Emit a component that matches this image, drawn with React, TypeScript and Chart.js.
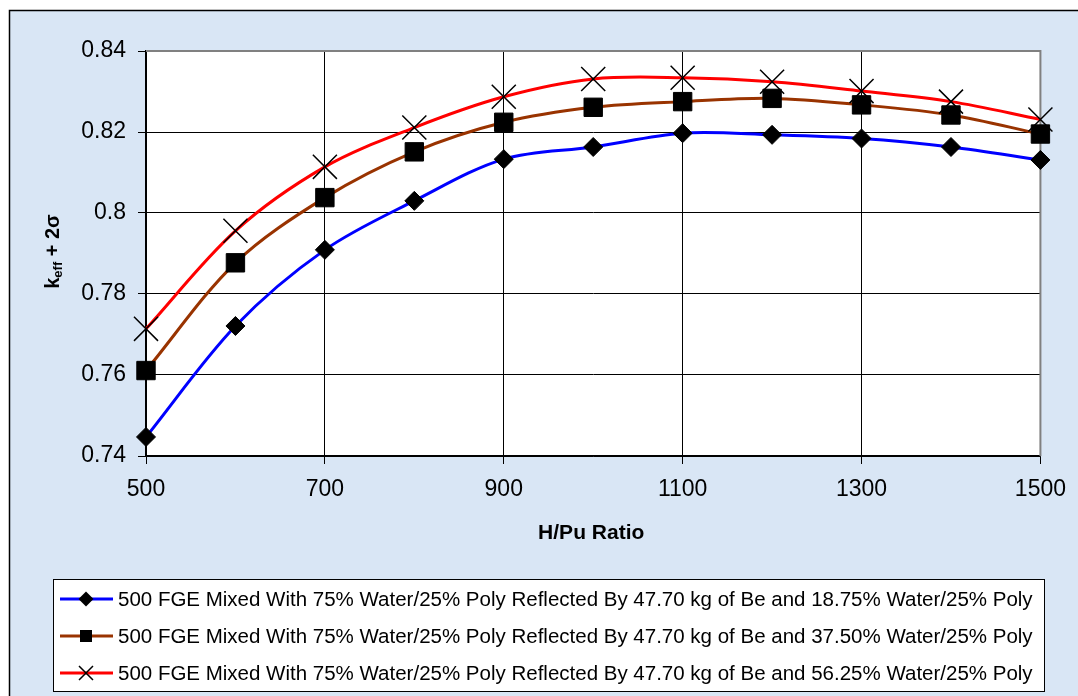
import React, { useEffect, useRef } from 'react';
import { Chart, registerables } from 'chart.js';

Chart.register(...registerables);

const hpuRatio = [500, 600, 700, 800, 900, 1000, 1100, 1200, 1300, 1400, 1500];
const keffBe1875 = [0.7447, 0.7721, 0.7909, 0.803, 0.8133, 0.8163, 0.8197, 0.8193, 0.8184, 0.8163, 0.8131];
const keffBe3750 = [0.7611, 0.7877, 0.8038, 0.8151, 0.8224, 0.8261, 0.8275, 0.8283, 0.8267, 0.8242, 0.8195];
const keffBe5625 = [0.7714, 0.7956, 0.8114, 0.8211, 0.8287, 0.8331, 0.8334, 0.8324, 0.8301, 0.8275, 0.8231];

const seriesLabels = [
  '500 FGE Mixed With 75% Water/25% Poly Reflected By 47.70 kg of Be and 18.75% Water/25% Poly',
  '500 FGE Mixed With 75% Water/25% Poly Reflected By 47.70 kg of Be and 37.50% Water/25% Poly',
  '500 FGE Mixed With 75% Water/25% Poly Reflected By 47.70 kg of Be and 56.25% Water/25% Poly',
];
const xTickValues = [500, 700, 900, 1100, 1300, 1500];
const yTickValues = [0.74, 0.76, 0.78, 0.8, 0.82, 0.84];
const xTitle = 'H/Pu Ratio';
const yTitleMain = 'k';
const yTitleSub = 'eff';
const yTitleRest = ' + 2σ';

const FONT = '"Liberation Sans", Arial, Helvetica, sans-serif';
const seriesColors = ['#0000ff', '#993300', '#ff0000'];
const markerKinds = ['diamond', 'square', 'cross'];

function drawMarker(ctx: CanvasRenderingContext2D, kind: string, x: number, y: number, r: number) {
  ctx.save();
  ctx.fillStyle = '#000';
  ctx.strokeStyle = '#000';
  if (kind === 'diamond') {
    ctx.beginPath();
    ctx.moveTo(x, y - r);
    ctx.lineTo(x + r, y);
    ctx.lineTo(x, y + r);
    ctx.lineTo(x - r, y);
    ctx.closePath();
    ctx.fill();
  } else if (kind === 'square') {
    ctx.fillRect(x - r, y - r, 2 * r, 2 * r);
  } else {
    ctx.lineWidth = 1.5;
    ctx.beginPath();
    ctx.moveTo(x - r, y - r);
    ctx.lineTo(x + r, y + r);
    ctx.moveTo(x + r, y - r);
    ctx.lineTo(x - r, y + r);
    ctx.stroke();
  }
  ctx.restore();
}

const framePlugin = {
  id: 'frame',
  beforeDraw(chart: any) {
    const { ctx, width, height, chartArea } = chart;
    ctx.save();
    ctx.fillStyle = '#ffffff';
    ctx.fillRect(0, 0, width, height);
    ctx.fillStyle = '#d9e6f5';
    ctx.fillRect(9, 10, width - 9, height - 10);
    ctx.strokeStyle = '#000';
    ctx.lineWidth = 1.5;
    ctx.beginPath();
    ctx.moveTo(9.5, height);
    ctx.lineTo(9.5, 10.5);
    ctx.lineTo(width, 10.5);
    ctx.stroke();
    ctx.fillStyle = '#ffffff';
    ctx.fillRect(chartArea.left, chartArea.top, chartArea.right - chartArea.left, chartArea.bottom - chartArea.top);
    ctx.restore();
  },
  beforeDatasetsDraw(chart: any) {
    const { ctx, chartArea } = chart;
    ctx.save();
    ctx.strokeStyle = '#808080';
    ctx.lineWidth = 2;
    ctx.beginPath();
    ctx.moveTo(chartArea.left, chartArea.top);
    ctx.lineTo(chartArea.right, chartArea.top);
    ctx.lineTo(chartArea.right, chartArea.bottom);
    ctx.stroke();
    ctx.restore();
  },
  afterDraw(chart: any) {
    const { ctx, chartArea } = chart;
    ctx.save();
    ctx.fillStyle = '#000';
    // x title
    ctx.font = `bold 21px ${FONT}`;
    ctx.textAlign = 'center';
    ctx.textBaseline = 'middle';
    ctx.fillText(xTitle, (chartArea.left + chartArea.right) / 2 - 2, 533);

    // y title rotated with subscript
    const mainFont = `bold 20px ${FONT}`;
    const subFont = `bold 13px ${FONT}`;
    ctx.font = mainFont;
    const w1 = ctx.measureText(yTitleMain).width;
    const w3 = ctx.measureText(yTitleRest).width;
    ctx.font = subFont;
    const w2 = ctx.measureText(yTitleSub).width;
    const total = w1 + w2 + w3;
    ctx.translate(51, (chartArea.top + chartArea.bottom) / 2 - 2);
    ctx.rotate(-Math.PI / 2);
    ctx.textAlign = 'left';
    ctx.textBaseline = 'alphabetic';
    const x0 = -total / 2;
    ctx.font = mainFont;
    ctx.fillText(yTitleMain, x0, 8);
    ctx.font = subFont;
    ctx.fillText(yTitleSub, x0 + w1, 11);
    ctx.font = mainFont;
    ctx.fillText(yTitleRest, x0 + w1 + w2, 8);
    ctx.restore();

    // legend
    ctx.save();
    ctx.fillStyle = '#ffffff';
    ctx.fillRect(53, 579, 991, 112);
    ctx.strokeStyle = '#000';
    ctx.lineWidth = 1;
    ctx.strokeRect(53.5, 579.5, 991, 112);
    const legendSizes = [7.5, 6, 7];
    chart.data.datasets.forEach((ds: any, i: number) => {
      const y = 599 + i * 37;
      ctx.strokeStyle = ds.borderColor;
      ctx.lineWidth = 3;
      ctx.beginPath();
      ctx.moveTo(60, y);
      ctx.lineTo(113, y);
      ctx.stroke();
      drawMarker(ctx, markerKinds[i], 86, y, legendSizes[i]);
      ctx.fillStyle = '#000';
      ctx.font = `20.5px ${FONT}`;
      ctx.textAlign = 'left';
      ctx.textBaseline = 'middle';
      ctx.fillText(ds.label, 118, y + 1);
    });
    ctx.restore();
  },
};

const near = (a: number, b: number) => Math.abs(a - b) < 1e-9;

export default function App() {
  const ref = useRef<HTMLCanvasElement>(null);
  useEffect(() => {
    const toPts = (arr: number[]) => hpuRatio.map((x, i) => ({ x, y: arr[i] }));
    const chart = new Chart(ref.current as HTMLCanvasElement, {
      type: 'line',
      data: {
        datasets: [
          {
            label: seriesLabels[0],
            data: toPts(keffBe1875),
            borderColor: seriesColors[0],
            borderWidth: 3,
            backgroundColor: '#000',
            pointStyle: 'rectRot',
            pointRadius: 9.5,
            pointBackgroundColor: '#000',
            pointBorderColor: '#000',
            pointBorderWidth: 1,
            tension: 0.33,
            clip: false,
            order: 2,
          },
          {
            label: seriesLabels[1],
            data: toPts(keffBe3750),
            borderColor: seriesColors[1],
            borderWidth: 3,
            backgroundColor: '#000',
            pointStyle: 'rect',
            pointRadius: 13,
            pointBackgroundColor: '#000',
            pointBorderColor: '#000',
            pointBorderWidth: 1,
            tension: 0.33,
            clip: false,
            order: 1,
          },
          {
            label: seriesLabels[2],
            data: toPts(keffBe5625),
            borderColor: seriesColors[2],
            borderWidth: 3,
            backgroundColor: '#000',
            pointStyle: 'crossRot',
            pointRadius: 17,
            pointBackgroundColor: '#000',
            pointBorderColor: '#000',
            pointBorderWidth: 1.5,
            tension: 0.33,
            clip: false,
            order: 0,
          },
        ] as any,
      },
      options: {
        responsive: false,
        animation: false,
        devicePixelRatio: 1,
        layout: { padding: { left: 0, top: 51, right: 36, bottom: 0 } },
        plugins: {
          legend: { display: false },
          tooltip: { enabled: false },
          title: { display: false },
        },
        scales: {
          x: {
            type: 'linear',
            min: 500,
            max: 1500,
            afterBuildTicks: (s: any) => {
              s.ticks = xTickValues.map((v) => ({ value: v }));
            },
            afterFit: (s: any) => {
              s.height = 240;
            },
            ticks: {
              font: { family: FONT, size: 23 },
              color: '#000',
              padding: 12,
              maxRotation: 0,
              autoSkip: false,
              callback: (v: any) => String(v),
            },
            grid: {
              color: (c: any) => (c.tick && near(c.tick.value, 1500) ? 'rgba(0,0,0,0)' : '#000'),
              tickColor: '#000',
              tickLength: 8,
              lineWidth: 1,
            },
            border: { color: '#000', width: 1.5 },
          },
          y: {
            type: 'linear',
            min: 0.74,
            max: 0.84,
            afterBuildTicks: (s: any) => {
              s.ticks = yTickValues.map((v) => ({ value: v }));
            },
            afterFit: (s: any) => {
              s.width = 146;
            },
            ticks: {
              font: { family: FONT, size: 23 },
              color: '#000',
              padding: 12,
              autoSkip: false,
              callback: (v: any) => String(parseFloat(Number(v).toFixed(2))),
            },
            grid: {
              color: (c: any) => (c.tick && near(c.tick.value, 0.84) ? 'rgba(0,0,0,0)' : '#000'),
              tickColor: '#000',
              tickLength: 8,
              lineWidth: 1,
            },
            border: { color: '#000', width: 1.5 },
          },
        },
      } as any,
      plugins: [framePlugin],
    });
    return () => chart.destroy();
  }, []);

  return (
    <div style={{ position: 'absolute', left: 0, top: 0, width: 1078, height: 696 }}>
      <canvas ref={ref} width={1078} height={696} style={{ display: 'block', width: 1078, height: 696 }} />
    </div>
  );
}
